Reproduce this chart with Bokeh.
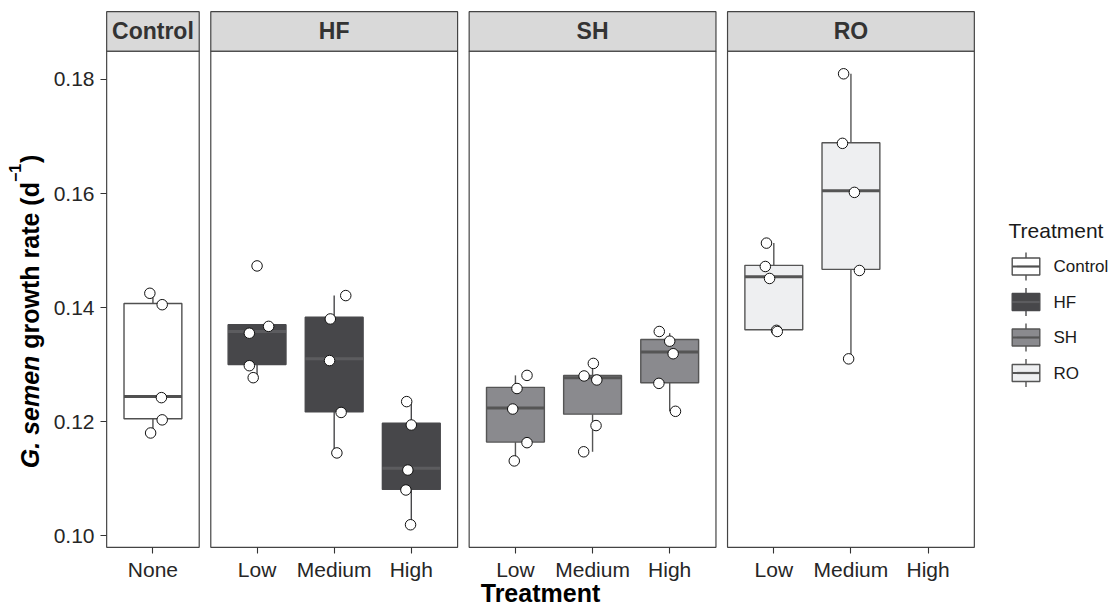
import numpy as np
from bokeh.plotting import figure
from bokeh.layouts import row
from bokeh.models import Range1d, FixedTicker, PrintfTickFormatter
from bokeh.core.properties import value
from bokeh.embed import file_html
from bokeh.resources import INLINE

FONT = "Liberation Sans"

# ---------------- data ----------------
FACETS = ["Control", "HF", "SH", "RO"]
LEVELS_CONTROL = ["None"]
LEVELS_TREAT = ["Low", "Medium", "High"]

GROUP_FACET = ["Control", "HF", "HF", "HF", "SH", "SH", "SH", "RO", "RO"]
GROUP_LEVEL = ["None", "Low", "Medium", "High", "Low", "Medium", "High", "Low", "Medium"]

# box statistics
Q1 = [0.1205, 0.1300, 0.1217, 0.1081, 0.1164, 0.1213, 0.1268, 0.1361, 0.1467]
MEDIAN = [0.1244, 0.1358, 0.1310, 0.1118, 0.1224, 0.1277, 0.1322, 0.1454, 0.1605]
Q3 = [0.1407, 0.1370, 0.1383, 0.1197, 0.1260, 0.1281, 0.1344, 0.1474, 0.1689]
WHISKER_LO = [0.1180, 0.1277, 0.1145, 0.1019, 0.1131, 0.1147, 0.1218, 0.1358, 0.1310]
WHISKER_HI = [0.1425, 0.1370, 0.1421, 0.1235, 0.1281, 0.1302, 0.1355, 0.1513, 0.1810]

# individual observations (growth rate, d^-1)
pts_control_none = [0.1425, 0.1405, 0.1242, 0.1203, 0.1180]
pts_hf_low = [0.1473, 0.1367, 0.1355, 0.1298, 0.1277]
pts_hf_medium = [0.1421, 0.1380, 0.1307, 0.1216, 0.1145]
pts_hf_high = [0.1235, 0.1194, 0.1115, 0.1080, 0.1019]
pts_sh_low = [0.1281, 0.1258, 0.1222, 0.1163, 0.1131]
pts_sh_medium = [0.1302, 0.1280, 0.1273, 0.1193, 0.1147]
pts_sh_high = [0.1358, 0.1341, 0.1319, 0.1267, 0.1218]
pts_ro_low = [0.1513, 0.1472, 0.1451, 0.1360, 0.1358]
pts_ro_medium = [0.1810, 0.1688, 0.1602, 0.1465, 0.1310]

# horizontal jitter of each observation (category widths), as read
jit_control_none = [-0.04, 0.12, 0.11, 0.12, -0.03]
jit_hf_low = [0.00, 0.15, -0.10, -0.10, -0.05]
jit_hf_medium = [0.15, -0.05, -0.06, 0.09, 0.035]
jit_hf_high = [-0.06, 0.00, -0.045, -0.07, -0.01]
jit_sh_low = [0.15, 0.02, -0.035, 0.15, -0.015]
jit_sh_medium = [0.01, -0.11, 0.055, 0.045, -0.115]
jit_sh_high = [-0.135, 0.00, 0.045, -0.14, 0.075]
jit_ro_low = [-0.095, -0.11, -0.055, 0.035, 0.045]
jit_ro_medium = [-0.095, -0.11, 0.045, 0.11, -0.03]

POINTS = [pts_control_none, pts_hf_low, pts_hf_medium, pts_hf_high,
          pts_sh_low, pts_sh_medium, pts_sh_high, pts_ro_low, pts_ro_medium]
JITTER = [jit_control_none, jit_hf_low, jit_hf_medium, jit_hf_high,
          jit_sh_low, jit_sh_medium, jit_sh_high, jit_ro_low, jit_ro_medium]

Y_TICKS = [0.10, 0.12, 0.14, 0.16, 0.18]

# ---------------- styles ----------------
FILL = {"Control": "#FFFFFF", "HF": "#47474A", "SH": "#8A8A8E", "RO": "#EEEFF1"}
EDGE = {"Control": "#505050", "HF": "#48484B", "SH": "#555555", "RO": "#555555"}
MEDC = {"Control": "#505050", "HF": "#5C5C5F", "SH": "#555555", "RO": "#555555"}
BORDER = "#444444"
STRIP_FILL = "#D9D9D9"

# ---------------- layout (x in 1/100 category units) ----------------
UNIT = 100
GAP = 15
BOX_W = 0.75
levels_of = {f: (LEVELS_CONTROL if f == "Control" else LEVELS_TREAT) for f in FACETS}
panel_left, panel_right, centers = {}, {}, {}
pos = 0
for f in FACETS:
    n = len(levels_of[f])
    panel_left[f] = pos
    centers[f] = [pos + 60 + UNIT * j for j in range(n)]
    pos += n * UNIT + 20
    panel_right[f] = pos
    pos += GAP
x_total = panel_right[FACETS[-1]]

all_vals = sum(POINTS, []) + WHISKER_LO + WHISKER_HI
dmin, dmax = min(all_vals), max(all_vals)
panel_lo = dmin - 0.05 * (dmax - dmin)
panel_hi = dmax + 0.05 * (dmax - dmin)

PAGE_W, FIG_H = 1111, 609
TOP_B, BOT_B = 10, 55
FRAME_H = FIG_H - TOP_B - BOT_B
PAD = 1.2
STRIP_PX = 40
ppu = (FRAME_H - 2 * PAD - STRIP_PX) / (panel_hi - panel_lo)
y_start = panel_lo - PAD / ppu
y_end = panel_hi + (STRIP_PX + PAD) / ppu
strip_top = panel_hi + STRIP_PX / ppu

LAB_W = 48
LEFT_B, RIGHT_B = 57, 3
FRAME_W = 870
MAIN_W = LEFT_B + FRAME_W + RIGHT_B
LEG_W = PAGE_W - LAB_W - MAIN_W

p = figure(width=MAIN_W, height=FIG_H, title=None,
           x_range=Range1d(-1.5, x_total + 1.5), y_range=Range1d(y_start, y_end),
           output_backend="svg", toolbar_location=None, tools="",
           min_border_left=LEFT_B, min_border_right=RIGHT_B,
           min_border_top=TOP_B, min_border_bottom=BOT_B)
p.outline_line_color = None
p.background_fill_color = "white"
p.border_fill_color = "white"
p.xgrid.visible = False
p.ygrid.visible = False

# strips and panel borders
p.quad(left=[panel_left[f] for f in FACETS], right=[panel_right[f] for f in FACETS],
       bottom=panel_hi, top=strip_top, fill_color=STRIP_FILL,
       line_color=BORDER, line_width=1.2)
p.quad(left=[panel_left[f] for f in FACETS], right=[panel_right[f] for f in FACETS],
       bottom=panel_lo, top=panel_hi, fill_alpha=0, line_color=BORDER, line_width=1.2)
p.text(x=[(panel_left[f] + panel_right[f]) / 2 for f in FACETS],
       y=(panel_hi + strip_top) / 2, text=FACETS,
       text_font=value(FONT), text_font_style="bold", text_font_size="23px",
       text_color="#333333", text_align="center", text_baseline="middle")

# boxes
gx = [centers[f][levels_of[f].index(l)] for f, l in zip(GROUP_FACET, GROUP_LEVEL)]
half = BOX_W * UNIT / 2
fills = [FILL[f] for f in GROUP_FACET]
edges = [EDGE[f] for f in GROUP_FACET]
meds = [MEDC[f] for f in GROUP_FACET]

p.segment(x0=gx, x1=gx, y0=Q3, y1=WHISKER_HI, line_color=edges, line_width=1.4)
p.segment(x0=gx, x1=gx, y0=WHISKER_LO, y1=Q1, line_color=edges, line_width=1.4)
p.quad(left=[x - half for x in gx], right=[x + half for x in gx], bottom=Q1, top=Q3,
       fill_color=fills, line_color=edges, line_width=1.4)
p.segment(x0=[x - half for x in gx], x1=[x + half for x in gx], y0=MEDIAN, y1=MEDIAN,
          line_color=meds, line_width=3)

# points
px, py = [], []
for x, vals, jit in zip(gx, POINTS, JITTER):
    for v, j in zip(vals, jit):
        px.append(x + j * UNIT)
        py.append(v)
p.scatter(px, py, size=10.5, fill_color="white", line_color="#111111", line_width=1)

# axes
tick_pos = [c for f in FACETS for c in centers[f]]
tick_lab = [l for f in FACETS for l in levels_of[f]]
p.xaxis.ticker = FixedTicker(ticks=tick_pos)
p.xaxis.major_label_overrides = {int(c): l for c, l in zip(tick_pos, tick_lab)}
p.yaxis.ticker = FixedTicker(ticks=Y_TICKS)
p.yaxis.formatter = PrintfTickFormatter(format="%.2f")
for ax in (p.xaxis[0], p.yaxis[0]):
    ax.axis_line_color = None
    ax.major_tick_line_color = "#333333"
    ax.major_tick_line_width = 1.1
    ax.major_tick_out = 5
    ax.major_tick_in = 1
    ax.minor_tick_line_color = None
    ax.major_label_text_font = FONT
    ax.major_label_text_font_size = "21px"
    ax.major_label_text_color = "#262626"
p.xaxis.major_label_standoff = 4
p.yaxis.major_label_standoff = 6
p.xaxis.axis_label = "Treatment"
p.xaxis.axis_label_text_font = FONT
p.xaxis.axis_label_text_font_style = "bold"
p.xaxis.axis_label_text_font_size = "25px"
p.xaxis.axis_label_text_color = "#000000"
p.xaxis.axis_label_standoff = -5


def side_figure(w):
    f = figure(frame_width=w, frame_height=FIG_H, title=None,
               x_range=Range1d(0, w), y_range=Range1d(0, FIG_H),
               output_backend="svg", toolbar_location=None, tools="",
               x_axis_location=None, y_axis_location=None,
               min_border_left=0, min_border_right=0, min_border_top=0, min_border_bottom=0)
    f.outline_line_color = None
    f.xgrid.visible = False
    f.ygrid.visible = False
    f.border_fill_color = "white"
    f.background_fill_color = "white"
    return f


def ypx(page_y, dy):
    # page pixel row (from top) -> side-figure data coordinate (dy: observed render offset)
    return FIG_H - (page_y + dy)


# ---------------- y-axis title (separate narrow figure) ----------------
lf = side_figure(LAB_W)
LAB_DY = -6

YLAB_TEXT = ["G. semen", "growth rate (d", "\u22121", ")"]
YLAB_STYLE = ["bold italic", "bold", "bold", "bold"]
YLAB_SUP = [False, False, True, False]
YLAB_GAP_AFTER = [1.0, 0.0, 0.1, 0.0]   # in spaces
ADV = {' ': 278, 'G': 778, '.': 278, 's': 556, 'e': 556, 'm': 889, 'n': 611, 'g': 611,
       'r': 389, 'o': 611, 'w': 778, 't': 333, 'h': 611, 'a': 556, '(': 333, 'd': 611,
       ')': 333, '1': 556, '\u2212': 584}
FS_MAIN, FS_SUP = 25, 16
text_w, gaps = [], []
for t, sup, g in zip(YLAB_TEXT, YLAB_SUP, YLAB_GAP_AFTER):
    fs = FS_SUP if sup else FS_MAIN
    text_w.append(sum(ADV.get(ch, 556) for ch in t) * fs / 1000)
    gaps.append(g * ADV[' '] * FS_MAIN / 1000)
total_len = sum(text_w) + sum(gaps)
panel_top_page = TOP_B + PAD + STRIP_PX
panel_bot_page = TOP_B + FRAME_H - PAD
center_page = (panel_top_page + panel_bot_page) / 2 + 5
start_page = center_page + total_len / 2
BASE_X, SUP_X = 29.0, 14.0
off = 0.0
for t, sty, sup, w, g in zip(YLAB_TEXT, YLAB_STYLE, YLAB_SUP, text_w, gaps):
    lf.text(x=[SUP_X if sup else BASE_X], y=[ypx(start_page - off, LAB_DY)], text=[t],
            angle=np.pi / 2, text_font=value(FONT), text_font_style=sty,
            text_font_size=f"{FS_SUP if sup else FS_MAIN}px",
            text_color="#000000", text_align="left", text_baseline="alphabetic")
    off += w + g

# ---------------- legend (separate figure) ----------------
lg = side_figure(LEG_W)
LEG_DY = -8

LEG_TITLE = "Treatment"
LEG_X_TITLE, LEG_Y_TITLE = 30, 228
LEG_CX, LEG_Y0, LEG_STEP = 47.5, 264, 35.5
ICON_HW, ICON_HH, WHISK = 13.8, 8.5, 5.5
LEG_X_LABEL = 75

lg.text(x=[LEG_X_TITLE], y=[ypx(LEG_Y_TITLE, LEG_DY)], text=[LEG_TITLE], text_font=value(FONT),
        text_font_size="21px", text_color="#1A1A1A", text_align="left",
        text_baseline="middle")
ly = [ypx(LEG_Y0 + i * LEG_STEP, LEG_DY) for i in range(len(FACETS))]
lx = [LEG_CX] * len(FACETS)
lg.segment(x0=lx, x1=lx, y0=[y - ICON_HH - WHISK for y in ly], y1=[y + ICON_HH + WHISK for y in ly],
           line_color=[EDGE[f] for f in FACETS], line_width=1.4)
lg.quad(left=LEG_CX - ICON_HW, right=LEG_CX + ICON_HW,
        top=[y + ICON_HH for y in ly], bottom=[y - ICON_HH for y in ly],
        fill_color=[FILL[f] for f in FACETS], line_color=[EDGE[f] for f in FACETS], line_width=1.4)
lg.segment(x0=LEG_CX - ICON_HW, x1=LEG_CX + ICON_HW, y0=ly, y1=ly,
           line_color=[MEDC[f] for f in FACETS], line_width=2.2)
lg.text(x=[LEG_X_LABEL] * len(FACETS), y=ly, text=FACETS, text_font=value(FONT),
        text_font_size="17px", text_color="#1A1A1A", text_align="left",
        text_baseline="middle")

layout = row(lf, p, lg)
open("out.html", "w").write(file_html(layout, INLINE))
